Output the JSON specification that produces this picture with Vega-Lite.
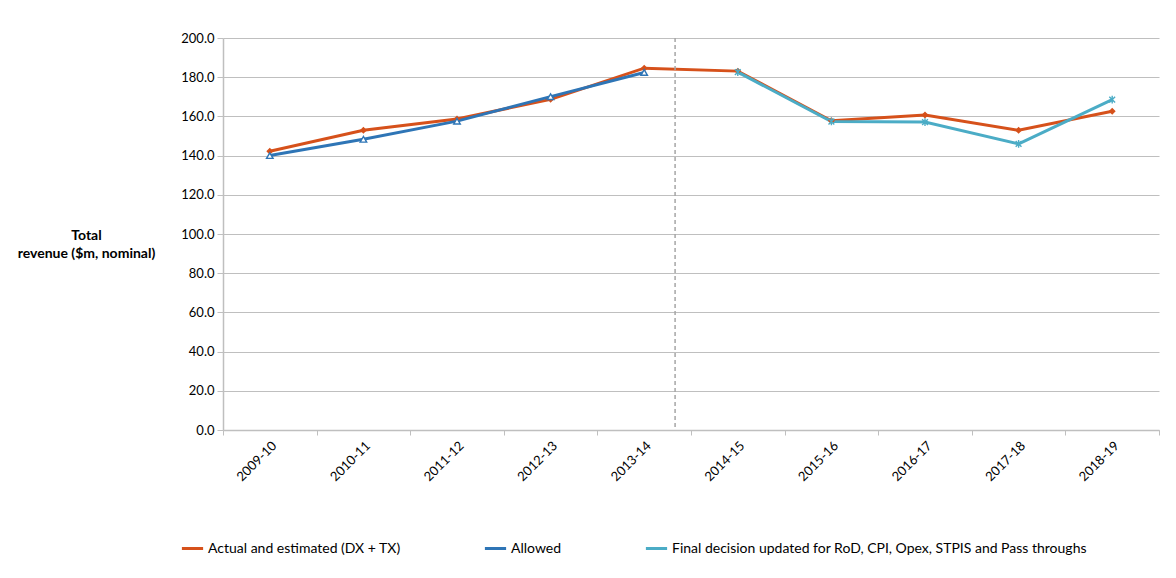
{
  "$schema": "https://vega.github.io/schema/vega-lite/v6.json",
  "width": 936,
  "height": 392,
  "autosize": {"type": "none"},
  "padding": {"left": 223, "top": 38, "right": 17, "bottom": 148},
  "background": "white",
  "config": {
    "font": "Lato",
    "view": {"stroke": null},
    "axis": {
      "labelFont": "Lato",
      "labelFontSize": 13,
      "labelColor": "#000000",
      "domainColor": "#BFBFBF",
      "tickColor": "#BFBFBF",
      "gridColor": "#BFBFBF",
      "domainWidth": 1.5,
      "tickSize": 6,
      "labelOverlap": false
    }
  },
  "datasets": {
    "rev": [
      {"year": "2009-10", "series": "Actual and estimated (DX + TX)", "value": 142.2},
      {"year": "2010-11", "series": "Actual and estimated (DX + TX)", "value": 152.9},
      {"year": "2011-12", "series": "Actual and estimated (DX + TX)", "value": 158.7},
      {"year": "2012-13", "series": "Actual and estimated (DX + TX)", "value": 168.7},
      {"year": "2013-14", "series": "Actual and estimated (DX + TX)", "value": 184.6},
      {"year": "2014-15", "series": "Actual and estimated (DX + TX)", "value": 183.1},
      {"year": "2015-16", "series": "Actual and estimated (DX + TX)", "value": 157.8},
      {"year": "2016-17", "series": "Actual and estimated (DX + TX)", "value": 160.7},
      {"year": "2017-18", "series": "Actual and estimated (DX + TX)", "value": 152.9},
      {"year": "2018-19", "series": "Actual and estimated (DX + TX)", "value": 162.6},
      {"year": "2009-10", "series": "Allowed", "value": 140.0},
      {"year": "2010-11", "series": "Allowed", "value": 148.3},
      {"year": "2011-12", "series": "Allowed", "value": 157.6},
      {"year": "2012-13", "series": "Allowed", "value": 170.1},
      {"year": "2013-14", "series": "Allowed", "value": 182.4},
      {"year": "2014-15", "series": "Final decision updated for RoD, CPI, Opex, STPIS and Pass throughs", "value": 182.6},
      {"year": "2015-16", "series": "Final decision updated for RoD, CPI, Opex, STPIS and Pass throughs", "value": 157.4},
      {"year": "2016-17", "series": "Final decision updated for RoD, CPI, Opex, STPIS and Pass throughs", "value": 157.1},
      {"year": "2017-18", "series": "Final decision updated for RoD, CPI, Opex, STPIS and Pass throughs", "value": 146.0},
      {"year": "2018-19", "series": "Final decision updated for RoD, CPI, Opex, STPIS and Pass throughs", "value": 168.6}
    ],
    "divider": [{"year": "2013-14"}]
  },
  "layer": [
    {
      "data": {"name": "rev"},
      "mark": {"type": "line", "strokeWidth": 3},
      "encoding": {
        "x": {
          "field": "year", "type": "ordinal", "title": null,
          "scale": {"type": "band", "paddingInner": 0, "paddingOuter": 0},
          "axis": {"labelAngle": -45, "tickBand": "extent", "labelPadding": 4, "tickSize": 5}
        },
        "y": {
          "field": "value", "type": "quantitative",
          "scale": {"domain": [0, 200], "nice": false},
          "axis": {
            "values": [0, 20, 40, 60, 80, 100, 120, 140, 160, 180, 200],
            "tickCount": 20,
            "format": ".1f",
            "grid": true,
            "labelPadding": 3,
            "title": ["Total", "revenue ($m, nominal)"],
            "titleAngle": 0,
            "titleFont": "Lato",
            "titleFontSize": 14,
            "titleFontWeight": "bold",
            "titleColor": "#000000",
            "titleAlign": "center",
            "titleBaseline": "top",
            "titleX": -137,
            "titleY": 190,
            "titleLineHeight": 18
          }
        },
        "color": {
          "field": "series", "type": "nominal",
          "scale": {
            "domain": ["Actual and estimated (DX + TX)", "Allowed", "Final decision updated for RoD, CPI, Opex, STPIS and Pass throughs"],
            "range": ["#D6511B", "#2E75B6", "#4BACC6"]
          },
          "legend": {
            "title": null,
            "orient": "none",
            "direction": "horizontal",
            "legendX": -43,
            "legendY": 498,
            "gridAlign": "none",
            "columnPadding": 77,
            "symbolType": "stroke",
            "symbolStrokeWidth": 3,
            "symbolSize": 450,
            "labelFont": "Lato",
            "labelFontSize": 14,
            "labelColor": "#000000",
            "labelLimit": 600,
            "labelOffset": 3
          }
        },
        "order": {"field": "series"}
      }
    },
    {
      "data": {"name": "rev"},
      "mark": {"type": "point", "strokeWidth": 1.4, "opacity": 1},
      "encoding": {
        "x": {"field": "year", "type": "ordinal"},
        "y": {
          "field": "value", "type": "quantitative",
          "axis": {
            "values": [0, 20, 40, 60, 80, 100, 120, 140, 160, 180, 200],
            "tickCount": 20,
            "format": ".1f",
            "grid": true,
            "labelPadding": 3,
            "title": ["Total", "revenue ($m, nominal)"],
            "titleAngle": 0,
            "titleFont": "Lato",
            "titleFontSize": 14,
            "titleFontWeight": "bold",
            "titleColor": "#000000",
            "titleAlign": "center",
            "titleBaseline": "top",
            "titleX": -137,
            "titleY": 190,
            "titleLineHeight": 18
          }
        },
        "shape": {
          "field": "series", "type": "nominal",
          "scale": {
            "domain": ["Actual and estimated (DX + TX)", "Allowed", "Final decision updated for RoD, CPI, Opex, STPIS and Pass throughs"],
            "range": ["diamond", "triangle-up", "M0,-1L0,1M-0.75,-0.75L0.75,0.75M-0.75,0.75L0.75,-0.75"]
          },
          "legend": null
        },
        "stroke": {
          "field": "series", "type": "nominal",
          "scale": {
            "domain": ["Actual and estimated (DX + TX)", "Allowed", "Final decision updated for RoD, CPI, Opex, STPIS and Pass throughs"],
            "range": ["#D6511B", "#2E75B6", "#4BACC6"]
          },
          "legend": null
        },
        "fill": {
          "field": "series", "type": "nominal",
          "scale": {
            "domain": ["Actual and estimated (DX + TX)", "Allowed", "Final decision updated for RoD, CPI, Opex, STPIS and Pass throughs"],
            "range": ["#D6511B", "#FFFFFF", "transparent"]
          },
          "legend": null
        },
        "size": {
          "field": "series", "type": "nominal",
          "scale": {
            "domain": ["Actual and estimated (DX + TX)", "Allowed", "Final decision updated for RoD, CPI, Opex, STPIS and Pass throughs"],
            "range": [25, 60, 120]
          },
          "legend": null
        }
      }
    },
    {
      "data": {"name": "divider"},
      "mark": {"type": "rule", "color": "#A6A6A6", "strokeDash": [4, 3], "strokeWidth": 1.5},
      "encoding": {
        "x": {"field": "year", "type": "ordinal", "bandPosition": 0.83}
      }
    }
  ],
  "resolve": {"scale": {"color": "independent", "stroke": "independent"}}
}
